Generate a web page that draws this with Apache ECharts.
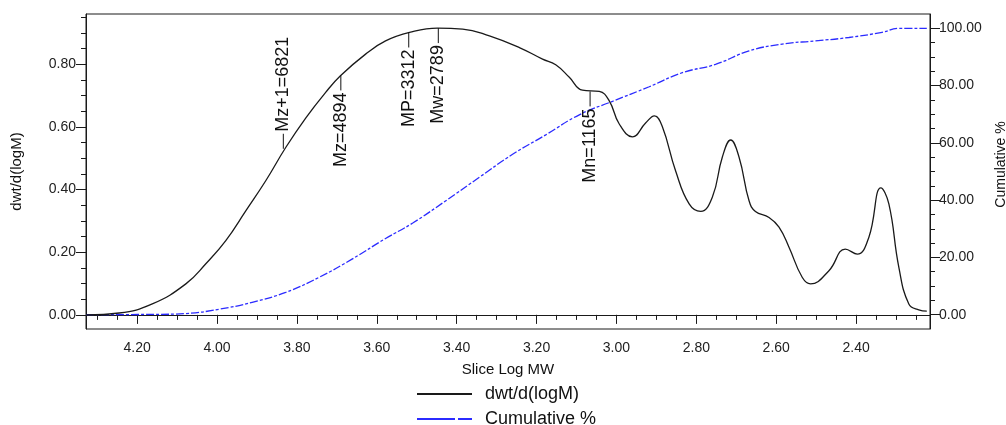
<!DOCTYPE html>
<html>
<head>
<meta charset="utf-8">
<script src="https://cdn.jsdelivr.net/npm/echarts@6/dist/echarts.min.js"></script>
<style>
html,body{margin:0;padding:0;background:#fff;}
#chart{width:1006px;height:425px;}
</style>
</head>
<body>
<div id="chart"></div>
<script>
// ---- data ----
const dwtLogMW = [4.328,4.245,4.162,4.078,4.028,3.978,3.928,3.878,3.828,3.778,3.728,3.691,3.628,3.578,3.518,3.448,3.385,3.318,3.243,3.185,3.152,3.118,3.085,3.043,3.018,2.993,2.960,2.927,2.905,2.885,2.852,2.818,2.789,2.760,2.735,2.714,2.693,2.668,2.652,2.618,2.593,2.568,2.535,2.514,2.468,2.427,2.397,2.368,2.338,2.318,2.293,2.268,2.243,2.223];
const dwtValues = [0.000,0.006,0.035,0.099,0.163,0.237,0.332,0.428,0.534,0.628,0.710,0.763,0.832,0.874,0.901,0.915,0.912,0.890,0.853,0.816,0.798,0.758,0.717,0.713,0.683,0.609,0.568,0.612,0.635,0.600,0.460,0.354,0.330,0.375,0.503,0.558,0.503,0.364,0.330,0.311,0.280,0.216,0.120,0.099,0.141,0.210,0.194,0.248,0.405,0.354,0.152,0.035,0.016,0.012];
const cumLogMW = [4.328,4.162,4.078,3.995,3.912,3.828,3.745,3.662,3.578,3.510,3.427,3.343,3.260,3.177,3.093,3.010,2.918,2.835,2.752,2.668,2.585,2.502,2.418,2.335,2.293,2.223];
const cumValues = [0,0.1,0.4,1.9,4.3,7.8,13.0,19.4,26.6,32.0,39.8,48.0,56.0,62.8,69.8,74.5,79.6,84.5,87.4,92.1,94.5,95.6,96.8,98.6,100,100];

const annLabels = ['Mz+1=6821','Mz=4894','MP=3312','Mw=2789','Mn=1165'];
const annLogMW = [3.834,3.690,3.520,3.446,3.066];
const annY = [0.530,0.764,0.901,0.915,0.713];
const annSide = ['up','down','down','down','down'];

const xMajorTicks = [2.4,2.6,2.8,3.0,3.2,3.4,3.6,3.8,4.0,4.2];
const yLeftMajorTicks = [0,0.2,0.4,0.6,0.8];
const yRightMajorTicks = [0,20,40,60,80,100];

const xMinorTicks = [];
for (let v = 2.25; v <= 4.3001; v += 0.05) xMinorTicks.push(+v.toFixed(2));
const yLeftMinorTicks = [];
for (let v = 0; v <= 0.9501; v += 0.05) yLeftMinorTicks.push(+v.toFixed(2));
const yRightMinorTicks = [];
for (let v = 0; v <= 100.01; v += 5) yRightMinorTicks.push(+v.toFixed(0));

// ---- chart ----
const FONT = '"Liberation Sans", Arial, sans-serif';
const AX = '#1a1a1a';
const chart = echarts.init(document.getElementById('chart'), null, {renderer:'canvas'});

const xCommon = {type:'value', min:2.215, max:4.328, inverse:true, position:'bottom', splitLine:{show:false}};
const yLeftCommon = {type:'value', min:-0.045, max:0.96, position:'left', splitLine:{show:false}};
const yRightCommon = {type:'value', min:-5, max:105, position:'right', splitLine:{show:false}};

chart.setOption({
  animation:false,
  grid:{left:86, right:76, top:14, bottom:96, show:true, borderColor:AX, borderWidth:1, backgroundColor:'transparent', outerBoundsMode:'none', containLabel:false},
  legend:{
    orient:'vertical', left:417, top:385, width:250, height:60, padding:0,
    itemWidth:55, itemHeight:2, itemGap:7,
    symbolKeepAspect:false,
    textStyle:{fontFamily:FONT, fontSize:18, lineHeight:18, color:'#111', padding:[0,0,0,8]},
    data:[
      {name:'dwt/d(logM)', icon:'rect'},
      {name:'Cumulative %', icon:'path://M0,0H38V2H0Z M41,0H55V2H41Z'}
    ]
  },
  xAxis:[
    Object.assign({}, xCommon, {
      name:'Slice Log MW', nameLocation:'middle', nameGap:33,
      nameTextStyle:{fontFamily:FONT, fontSize:15, color:'#111'},
      axisLine:{show:true, lineStyle:{color:AX, width:1}},
      axisTick:{show:true, inside:false, length:9, customValues:xMajorTicks, lineStyle:{color:AX}},
      axisLabel:{show:true, margin:12, customValues:xMajorTicks, fontFamily:FONT, fontSize:14, color:'#222', formatter:v=>v.toFixed(2)}
    }),
    Object.assign({}, xCommon, {
      axisLine:{show:false},
      axisTick:{show:true, inside:false, length:5, customValues:xMinorTicks, lineStyle:{color:AX}},
      axisLabel:{show:false}
    })
  ],
  yAxis:[
    Object.assign({}, yLeftCommon, {
      name:'dwt/d(logM)', nameLocation:'middle', nameGap:62,
      nameTextStyle:{fontFamily:FONT, fontSize:15, color:'#111'},
      axisLine:{show:true, lineStyle:{color:AX, width:1}},
      axisTick:{show:true, inside:false, length:10, customValues:yLeftMajorTicks, lineStyle:{color:AX}},
      axisLabel:{show:true, margin:10, customValues:yLeftMajorTicks, fontFamily:FONT, fontSize:14, color:'#222', formatter:v=>v.toFixed(2)}
    }),
    Object.assign({}, yLeftCommon, {
      axisLine:{show:false},
      axisTick:{show:true, inside:false, length:5, customValues:yLeftMinorTicks, lineStyle:{color:AX}},
      axisLabel:{show:false}
    }),
    Object.assign({}, yRightCommon, {
      name:'Cumulative %', nameLocation:'middle', nameGap:64,
      nameTextStyle:{fontFamily:FONT, fontSize:14, color:'#111', padding:[0,0,0,14]},
      axisLine:{show:true, lineStyle:{color:AX, width:1}},
      axisTick:{show:true, inside:false, length:10, customValues:yRightMajorTicks, lineStyle:{color:AX}},
      axisLabel:{show:true, margin:9, customValues:yRightMajorTicks, fontFamily:FONT, fontSize:14, color:'#222', formatter:v=>v.toFixed(2)}
    }),
    Object.assign({}, yRightCommon, {
      axisLine:{show:false},
      axisTick:{show:true, inside:false, length:5, customValues:yRightMinorTicks, lineStyle:{color:AX}},
      axisLabel:{show:false}
    })
  ],
  series:[
    {
      name:'dwt/d(logM)', type:'line', xAxisIndex:0, yAxisIndex:0,
      data:dwtLogMW.map((x,i)=>[x, dwtValues[i]]),
      showSymbol:false, symbol:'none', smooth:0.45,
      color:'#1a1a1a',
      lineStyle:{color:'#1a1a1a', width:1.3},
      z:3
    },
    {
      name:'Cumulative %', type:'line', xAxisIndex:0, yAxisIndex:2,
      data:cumLogMW.map((x,i)=>[x, cumValues[i]]),
      showSymbol:false, symbol:'none', smooth:0.45,
      color:'#2b2bff',
      lineStyle:{color:'#2b2bff', width:1.3, type:[8,2,3,2]},
      z:2
    },
    {
      name:'annotations', type:'custom', xAxisIndex:0, yAxisIndex:0,
      data:annLogMW.map((x,i)=>[x, annY[i]]),
      renderItem:function(params, api){
        const i = params.dataIndex;
        const p = api.coord([api.value(0), api.value(1)]);
        const up = annSide[i] === 'up';
        const len = 15;
        const yEnd = up ? p[1]-len : p[1]+len;
        return {type:'group', children:[
          {type:'line', shape:{x1:p[0], y1:p[1], x2:p[0], y2:yEnd}, style:{stroke:'#111', lineWidth:1}},
          {type:'text', x:p[0], y: up ? yEnd-2 : yEnd+2, rotation:Math.PI/2,
           style:{text:annLabels[i], font:'18px ' + FONT, fill:'#111', align: up ? 'left' : 'right', verticalAlign:'middle'}}
        ]};
      },
      z:4
    }
  ]
});
</script>
</body>
</html>
